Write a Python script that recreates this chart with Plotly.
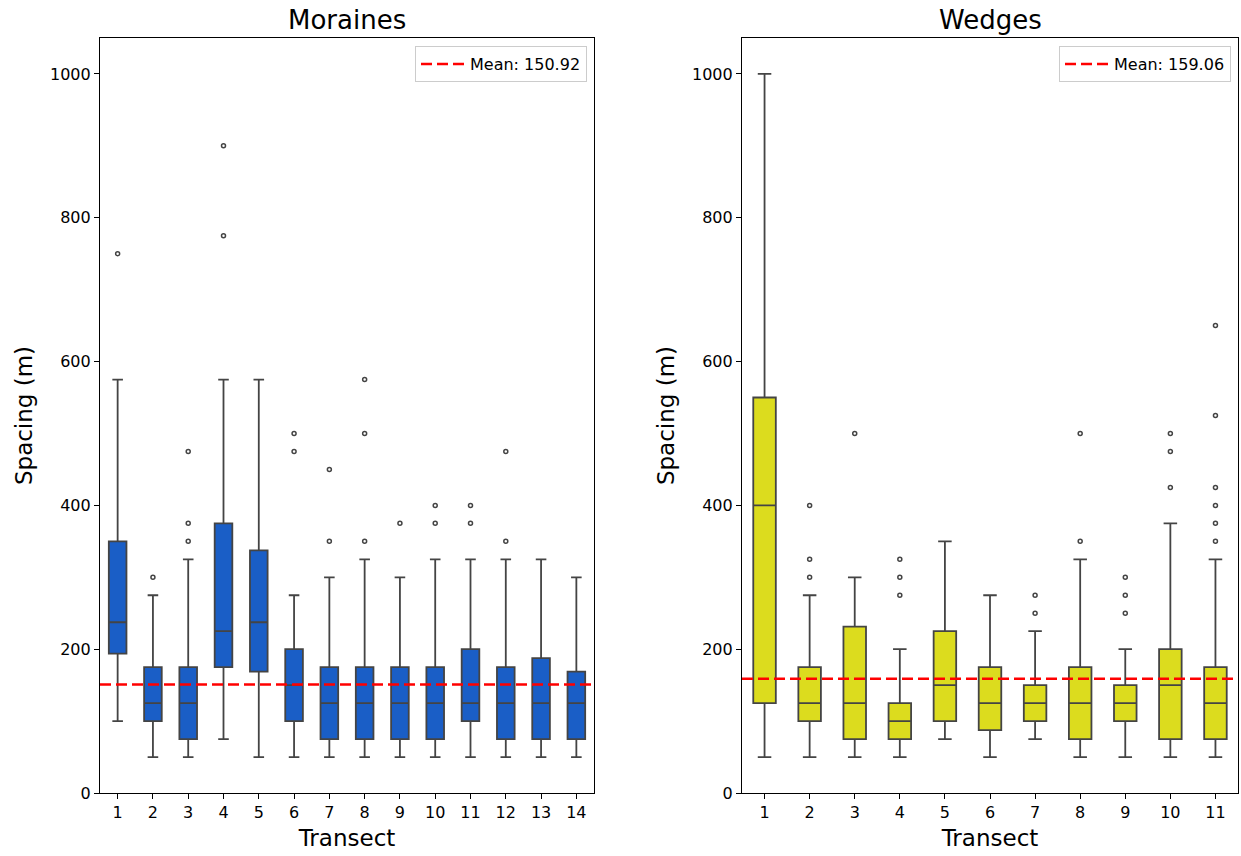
import plotly.graph_objects as go

# ---- Moraines: per-transect box statistics (spacing, m) ----
mor_transects = [1, 2, 3, 4, 5, 6, 7, 8, 9, 10, 11, 12, 13, 14]
mor_low = [100, 50, 50, 75, 50, 50, 50, 50, 50, 50, 50, 50, 50, 50]
mor_q1 = [193.75, 100, 75, 175, 168.75, 100, 75, 75, 75, 75, 100, 75, 75, 75]
mor_median = [237.5, 125, 125, 225, 237.5, 150, 125, 125, 125, 125, 125, 125, 125, 125]
mor_q3 = [350, 175, 175, 375, 337.5, 200, 175, 175, 175, 175, 200, 175, 187.5, 168.75]
mor_high = [575, 275, 325, 575, 575, 275, 300, 325, 300, 325, 325, 325, 325, 300]
mor_outliers = [
    [750], [300], [350, 375, 475], [775, 900], [], [475, 500], [350, 450],
    [350, 500, 575], [375], [375, 400], [375, 400], [350, 475], [], [],
]
mor_mean = 150.92

# ---- Wedges: per-transect box statistics (spacing, m) ----
wed_transects = [1, 2, 3, 4, 5, 6, 7, 8, 9, 10, 11]
wed_low = [50, 50, 50, 50, 75, 50, 75, 50, 50, 50, 50]
wed_q1 = [125, 100, 75, 75, 100, 87.5, 100, 75, 100, 75, 75]
wed_median = [400, 125, 125, 100, 150, 125, 125, 125, 125, 150, 125]
wed_q3 = [550, 175, 231.25, 125, 225, 175, 150, 175, 150, 200, 175]
wed_high = [1000, 275, 300, 200, 350, 275, 225, 325, 200, 375, 325]
wed_outliers = [
    [], [300, 325, 400], [500], [275, 300, 325], [], [], [250, 275],
    [350, 500], [250, 275, 300], [425, 475, 500], [350, 375, 400, 425, 525, 650],
]
wed_mean = 159.06

y_ticks = [0, 200, 400, 600, 800, 1000]

BLUE = "#1a5ec6"
YELLOW = "#dcdc1e"
EDGE = "#444444"
FONT = "DejaVu Sans"

fig = go.Figure()


def add_panel(transects, low, q1, med, q3, high, outliers, mean, fill,
              xaxis, yaxis, legend):
    fig.add_trace(go.Box(
        x=transects, q1=q1, median=med, q3=q3,
        lowerfence=low, upperfence=high,
        boxpoints=False, width=0.5, whiskerwidth=0.6,
        fillcolor=fill, line=dict(color=EDGE, width=1.8),
        showlegend=False, xaxis=xaxis, yaxis=yaxis,
    ))
    ox, oy = [], []
    for t, pts in zip(transects, outliers):
        for v in pts:
            ox.append(t)
            oy.append(v)
    fig.add_trace(go.Scatter(
        x=ox, y=oy, mode="markers",
        marker=dict(symbol="circle-open", size=4, color=EDGE,
                    line=dict(width=1.5, color=EDGE)),
        showlegend=False, xaxis=xaxis, yaxis=yaxis,
    ))
    fig.add_trace(go.Scatter(
        x=[0.5, len(transects) + 0.5], y=[mean, mean], mode="lines",
        line=dict(color="#ff0000", width=2.5, dash="11px,5px"),
        name=f"Mean: {mean:.2f}", showlegend=True, legend=legend,
        xaxis=xaxis, yaxis=yaxis,
    ))


add_panel(mor_transects, mor_low, mor_q1, mor_median, mor_q3, mor_high,
          mor_outliers, mor_mean, BLUE, "x", "y", "legend")
add_panel(wed_transects, wed_low, wed_q1, wed_median, wed_q3, wed_high,
          wed_outliers, wed_mean, YELLOW, "x2", "y2", "legend2")

W, H = 1241, 856
top = 1 - 38 / H
bottom = 1 - 793 / H

axis_common = dict(
    showline=True, linecolor="black", linewidth=1.2, mirror=True,
    ticks="outside", ticklen=5, tickwidth=1.2, tickcolor="black",
    showgrid=False, zeroline=False, automargin=False,
    tickfont=dict(family=FONT, size=16, color="black"),
)

legend_common = dict(
    font=dict(family=FONT, size=16, color="black"),
    bgcolor="rgba(255,255,255,0.85)", bordercolor="#cccccc", borderwidth=1,
    xanchor="right", yanchor="top", itemwidth=44,
    tracegroupgap=0,
)

title_font = dict(family=FONT, size=23, color="black")

fig.update_layout(
    width=W, height=H,
    margin=dict(l=0, r=0, t=0, b=0, autoexpand=False),
    paper_bgcolor="white", plot_bgcolor="white",
    showlegend=True,
    xaxis=dict(domain=[100 / W, 594 / W], range=[0.5, 14.5],
               tickvals=mor_transects, ticktext=[str(t) for t in mor_transects],
               title=dict(text="Transect", font=title_font, standoff=8),
               anchor="y", **axis_common),
    yaxis=dict(domain=[bottom, top], range=[0, 1050], tickvals=y_ticks,
               title=dict(text="Spacing (m)", font=title_font, standoff=10),
               anchor="x", **axis_common),
    xaxis2=dict(domain=[742 / W, 1238 / W], range=[0.5, 11.5],
                tickvals=wed_transects, ticktext=[str(t) for t in wed_transects],
                title=dict(text="Transect", font=title_font, standoff=8),
                anchor="y2", **axis_common),
    yaxis2=dict(domain=[bottom, top], range=[0, 1050], tickvals=y_ticks,
                title=dict(text="Spacing (m)", font=title_font, standoff=10),
                anchor="x2", **axis_common),
    legend=dict(x=587 / W, y=1 - 46 / H, **legend_common),
    legend2=dict(x=1231 / W, y=1 - 46 / H, **legend_common),
    annotations=[
        dict(text="Moraines", x=(100 + 594) / 2 / W, y=1 - 20 / H,
             xref="paper", yref="paper", showarrow=False,
             font=dict(family=FONT, size=26, color="black"),
             xanchor="center", yanchor="middle"),
        dict(text="Wedges", x=(742 + 1238) / 2 / W, y=1 - 20 / H,
             xref="paper", yref="paper", showarrow=False,
             font=dict(family=FONT, size=26, color="black"),
             xanchor="center", yanchor="middle"),
    ],
)

fig.write_html("out.html")
